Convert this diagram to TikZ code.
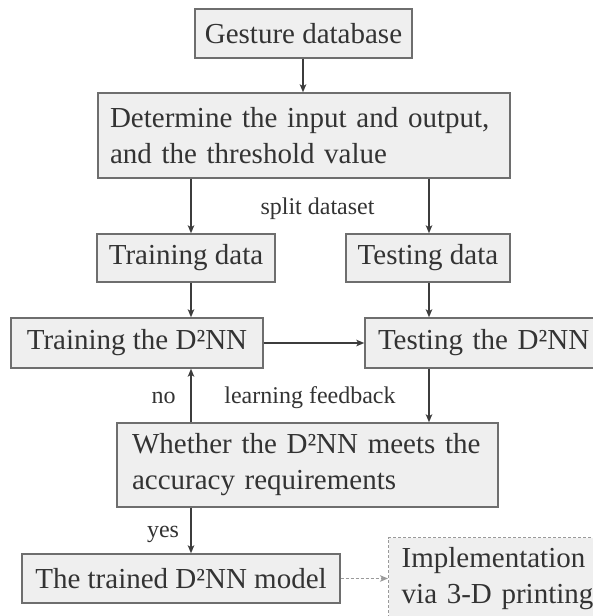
\documentclass[tikz,border=0pt]{standalone}
\usepackage{fontspec}
\setmainfont{Liberation Serif}
\usetikzlibrary{arrows.meta}

\definecolor{boxfill}{HTML}{EFEFEF}
\definecolor{boxline}{HTML}{6E6E6E}
\definecolor{inkgray}{HTML}{333333}
\definecolor{arrowgray}{HTML}{3C3C3C}
\definecolor{dashgray}{HTML}{9A9A9A}

\tikzset{
  box/.style={draw=boxline, fill=boxfill, line width=1.4pt, inner sep=0pt,
              text=inkgray, font=\fontsize{29}{36}\selectfont},
  leftbox/.style={box, align=left},
  dashbox/.style={box, draw=dashgray, dash pattern=on 3pt off 2pt, align=left},
  lbl/.style={text=inkgray, inner sep=0pt, font=\fontsize{24}{28}\selectfont},
  arr/.style={draw=arrowgray, line width=1.5pt,
              -{Stealth[length=8pt,width=6.5pt,inset=2pt]}},
  darr/.style={draw=dashgray, line width=1.3pt, dash pattern=on 3pt off 2pt,
               -{Stealth[length=8pt,width=6.5pt,inset=2pt]}},
}

\begin{document}
\begin{tikzpicture}[x=1pt, y=-1pt]
  \clip (0,0) rectangle (593,616);
  \fill[white] (0,0) rectangle (593,616);

  % process boxes
  \node[box, minimum width=217, minimum height=49] (gest) at (303.5,33.5) {Gesture database};
  \node[leftbox, text width=388, inner xsep=12, minimum height=85] (det) at (304,135.5)
    {Determine the input and output,\\and the threshold value};
  \node[box, minimum width=178, minimum height=48] (trd) at (186,258) {Training data};
  \node[box, minimum width=164, minimum height=48] (tsd) at (428,258) {Testing data};
  \node[box, minimum width=252, minimum height=50] (trn) at (137,343) {Training the D²NN};
  \node[leftbox, text width=219, inner xsep=13, minimum height=50] (tst) at (487.5,343)
    {Testing the D²NN};
  \node[leftbox, text width=351, inner xsep=15, minimum height=84] (wh) at (307.5,465)
    {Whether the D²NN meets the\\accuracy requirements};
  \node[box, minimum width=318, minimum height=49] (trm) at (181,578.5) {The trained D²NN model};
  \node[dashbox, anchor=north west, text width=214, inner xsep=13, inner ysep=10] (impl)
    at (388,537) {Implementation\\via 3-D printing};

  % connector columns
  \coordinate (lcol) at (191,0);
  \coordinate (mcol) at (303,0);
  \coordinate (rcol) at (429,0);

  % connectors
  \draw[arr] (gest.south -| mcol) -- (det.north -| mcol);
  \draw[arr] (det.south -| lcol) -- (trd.north -| lcol);
  \draw[arr] (det.south -| rcol) -- (tsd.north -| rcol);
  \draw[arr] (trd.south -| lcol) -- (trn.north -| lcol);
  \draw[arr] (tsd.south -| rcol) -- (tst.north -| rcol);
  \draw[arr] (trn.east) -- (tst.west);
  \draw[arr] (tst.south -| rcol) -- (wh.north -| rcol);
  \draw[arr] (wh.north -| lcol) -- (trn.south -| lcol);
  \draw[arr] (wh.south -| lcol) -- (trm.north -| lcol);
  \draw[darr] (trm.east) -- (impl.west |- trm.east);

  % connector labels
  \node[lbl, anchor=base] (split) at (317.5,214) {split dataset};
  \node[lbl, anchor=base] (no) at (163.5,403) {no};
  \node[lbl, anchor=base] (fb) at (310,403) {learning feedback};
  \node[lbl, anchor=base] (yes) at (163,537) {yes};
\end{tikzpicture}
\end{document}
